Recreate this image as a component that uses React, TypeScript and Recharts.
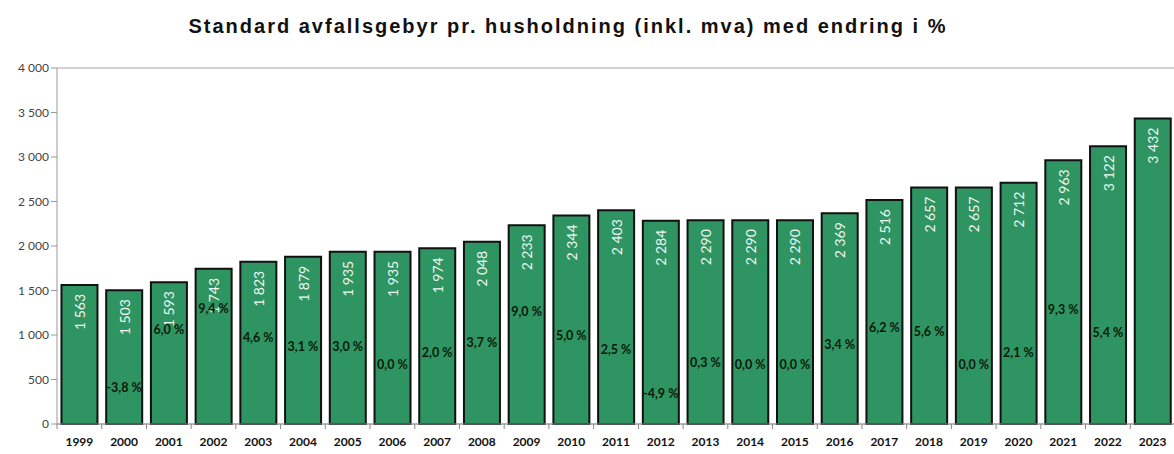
import React from "react";
import {
  ComposedChart,
  Bar,
  Line,
  XAxis,
  YAxis,
  CartesianGrid,
  LabelList,
} from "recharts";

const years = [
  "1999", "2000", "2001", "2002", "2003", "2004", "2005", "2006", "2007",
  "2008", "2009", "2010", "2011", "2012", "2013", "2014", "2015", "2016",
  "2017", "2018", "2019", "2020", "2021", "2022", "2023",
];

const fees = [
  1563, 1503, 1593, 1743, 1823, 1879, 1935, 1935, 1974, 2048, 2233, 2344,
  2403, 2284, 2290, 2290, 2290, 2369, 2516, 2657, 2657, 2712, 2963, 3122, 3432,
];

const changes: (number | null)[] = [
  null, -3.8, 6.0, 9.4, 4.6, 3.1, 3.0, 0.0, 2.0, 3.7, 9.0, 5.0, 2.5, -4.9,
  0.3, 0.0, 0.0, 3.4, 6.2, 5.6, 0.0, 2.1, 9.3, 5.4, null,
];

const yTicks = [0, 500, 1000, 1500, 2000, 2500, 3000, 3500, 4000];

const data = years.map((y, i) => ({ year: y, fee: fees[i], pct: changes[i] }));

const W = 1174;
const H = 454;
const LEFT = 57;
const RIGHT = -1;
const band = (W - LEFT - RIGHT) / years.length;

const fmtThousands = (v: number) => {
  const s = String(v);
  return s.length > 3 ? s.slice(0, s.length - 3) + " " + s.slice(-3) : s;
};

const FeeLabel = (props: any) => {
  const { x, y, width, value } = props;
  const cx = x + width / 2;
  const ty = y + 9;
  return (
    <text
      x={cx}
      y={ty}
      transform={`rotate(-90 ${cx} ${ty})`}
      textAnchor="end"
      dominantBaseline="central"
      fill="#eef7f1"
      fontSize={14}
      fontFamily="Lato, 'Open Sans', sans-serif"
    >
      {fmtThousands(value)}
    </text>
  );
};

const PctLabel = (props: any) => {
  const { x, y, value } = props;
  if (value === null || value === undefined) return null;
  const txt = value.toFixed(1).replace(".", ",") + " %";
  return (
    <text
      x={x}
      y={y}
      textAnchor="middle"
      dominantBaseline="central"
      fill="#0a1a0a"
      fontSize={12.5}
      fontWeight="bold"
      fontFamily="Lato, 'Open Sans', sans-serif"
    >
      {txt}
    </text>
  );
};

const XTick = (props: any) => {
  const { x, y, payload } = props;
  const bx = x - band / 2;
  return (
    <g>
      <line x1={bx} y1={y - 8} x2={bx} y2={y - 3} stroke="#888" />
      <text
        x={x}
        y={y + 9}
        textAnchor="middle"
        dominantBaseline="central"
        fill="#111"
        fontSize={12}
        fontWeight="bold"
        fontFamily="Lato, 'Open Sans', sans-serif"
      >
        {payload.value}
      </text>
    </g>
  );
};

export default function App() {
  return (
    <div style={{ position: "absolute", left: 0, top: 0, width: W, height: H, background: "#fff" }}>
      <div
        style={{
          position: "absolute",
          left: 0,
          top: 15,
          width: 1136,
          textAlign: "center",
          fontFamily: "'Liberation Sans', Arial, sans-serif",
          fontWeight: "bold",
          fontSize: 20,
          letterSpacing: 2,
          color: "#111",
        }}
      >
        Standard avfallsgebyr pr. husholdning (inkl. mva) med endring i %
      </div>
      <ComposedChart
        width={W}
        height={H}
        data={data}
        margin={{ top: 68, right: RIGHT, bottom: 0, left: 0 }}
        barCategoryGap="10%"
      >
        <CartesianGrid vertical={false} stroke="#a6a6a6" strokeWidth={1.2} />
        <XAxis
          dataKey="year"
          height={30}
          axisLine={{ stroke: "#999" }}
          tickLine={false}
          tick={<XTick />}
          interval={0}
        />
        <YAxis
          yAxisId="fee"
          width={LEFT}
          domain={[0, 4000]}
          ticks={yTicks}
          tickFormatter={fmtThousands}
          axisLine={{ stroke: "#999" }}
          tickLine={{ stroke: "#999" }}
          tickSize={6}
          tick={{ fill: "#444", fontSize: 12, fontFamily: "Lato, 'Open Sans', sans-serif" }}
        />
        <YAxis yAxisId="pct" orientation="right" width={0} hide domain={[-10, 50]} />
        <Bar
          yAxisId="fee"
          dataKey="fee"
          fill="#2e9461"
          stroke="#111"
          strokeWidth={2}
          isAnimationActive={false}
        >
          <LabelList dataKey="fee" content={<FeeLabel />} />
        </Bar>
        <Line
          yAxisId="pct"
          dataKey="pct"
          stroke="none"
          dot={false}
          activeDot={false}
          connectNulls={false}
          isAnimationActive={false}
        >
          <LabelList dataKey="pct" content={<PctLabel />} />
        </Line>
      </ComposedChart>
    </div>
  );
}
